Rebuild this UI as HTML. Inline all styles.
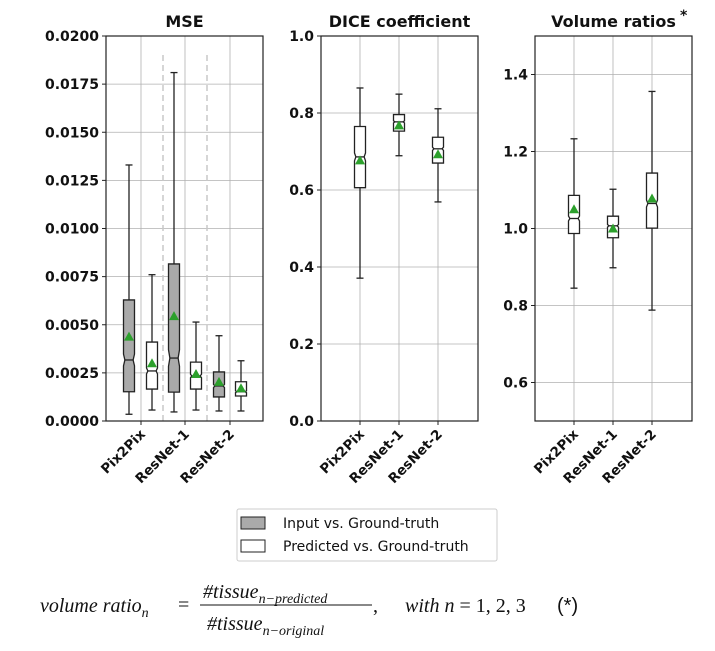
<!DOCTYPE html>
<html><head><meta charset="utf-8"><style>
body{margin:0;background:#fff;width:715px;height:651px;overflow:hidden}
svg{display:block;font-family:"DejaVu Sans","Liberation Sans",sans-serif}
</style></head><body>
<svg id="s" width="715" height="651">
<g id="g"></g>
<g>
<rect x="237" y="509" width="260" height="52" fill="#fff" stroke="#ccc" rx="2"/>
<rect x="241" y="517" width="24" height="12" fill="#aaa" stroke="#222"/>
<text x="283" y="528" font-size="14" fill="#111">Input vs. Ground-truth</text>
<rect x="241" y="540" width="24" height="12" fill="#fff" stroke="#222"/>
<text x="283" y="551" font-size="14" fill="#111">Predicted vs. Ground-truth</text>
</g>
<g font-family="'Liberation Serif',serif" font-style="italic" font-size="20" fill="#111">
<text x="40" y="612">volume ratio<tspan font-size="14" dy="5">n</tspan></text>
<text x="178" y="611" font-style="normal">=</text>
<text x="203" y="598">#tissue<tspan font-size="14" dy="5">n−predicted</tspan></text>
<line x1="200" y1="605" x2="372" y2="605" stroke="#111" stroke-width="1"/>
<text x="207" y="630">#tissue<tspan font-size="14" dy="5">n−original</tspan></text>
<text x="373" y="612" font-style="normal">,</text>
<text x="405" y="612">with n <tspan font-style="normal">= 1, 2, 3</tspan></text>
<text x="557" y="612" font-style="normal" font-family="'Liberation Sans',sans-serif">(*)</text>
</g>
</svg>
<script>
const categories = ["Pix2Pix","ResNet-1","ResNet-2"];
// [low, q1, median, q3, high, mean]
const mseInput = [[0.00035,0.00152,0.00317,0.00629,0.0133,0.00438],[0.00047,0.0015,0.00327,0.00816,0.0181,0.00545],[0.00052,0.00125,0.00182,0.00255,0.00443,0.00203]];
const msePred  = [[0.00057,0.00166,0.0026,0.0041,0.0076,0.0030],[0.00057,0.00166,0.00234,0.00306,0.00514,0.00244],[0.00052,0.0013,0.00152,0.00204,0.00313,0.0017]];
const dicePred = [[0.371,0.606,0.686,0.765,0.865,0.677],[0.689,0.753,0.777,0.796,0.849,0.768],[0.569,0.670,0.707,0.737,0.811,0.693]];
const volPred  = [[0.845,0.987,1.026,1.086,1.233,1.050],[0.898,0.976,1.007,1.032,1.102,1.0],[0.788,1.001,1.065,1.144,1.356,1.078]];
const mseTicks = ["0.0000","0.0025","0.0050","0.0075","0.0100","0.0125","0.0150","0.0175","0.0200"];
const diceTicks = ["0.0","0.2","0.4","0.6","0.8","1.0"];
const volTicks = ["0.6","0.8","1.0","1.2","1.4"];

const NS="http://www.w3.org/2000/svg", G=document.getElementById('g');
function el(t,a,p){const e=document.createElementNS(NS,t);for(const k in a)e.setAttribute(k,a[k]);(p||G).appendChild(e);return e;}

function panel(name,L,R,T,B,ymin,ymax,ticks,title,catX,series,dashX){
  const g=el('g',{});
  
  
  const y=v=>B-(v-ymin)/(ymax-ymin)*(B-T);
  ticks.forEach(t=>{const v=parseFloat(t),yy=y(v);
    const gl=el('line',{x1:L,x2:R,y1:yy,y2:yy,stroke:'#b0b0b0','stroke-width':0.8},g);
    
    
    el('line',{x1:L-4,x2:L,y1:yy,y2:yy,stroke:'#222'},g);
    const tx=el('text',{x:L-7,y:yy+5,'text-anchor':'end','font-size':14,'font-weight':'bold',fill:'#111'},g);
    tx.textContent=t;
    
    
  });
  categories.forEach((c,i)=>{const x=catX[i];
    const vl=el('line',{x1:x,x2:x,y1:T,y2:B,stroke:'#b0b0b0','stroke-width':0.8},g);
    
    
    el('line',{x1:x,x2:x,y1:B,y2:B+4,stroke:'#222'},g);
    const tx=el('text',{transform:`translate(${x+5},${B+14}) rotate(-45)`,'text-anchor':'end','font-size':13.5,'font-weight':'bold',fill:'#111'},g);
    tx.textContent=c;
    
    
  });
  (dashX||[]).forEach(x=>{const d=el('line',{x1:x,x2:x,y1:55,y2:B,stroke:'#c8c8c8','stroke-width':1.5,'stroke-dasharray':'6,4'},g);
    
    });
  series.forEach(s=>{s.data.forEach((d,i)=>{
    const cx=s.xs[i],w=5.5,[lo,q1,md,q3,hi,mn]=d;
    const bg=el('g',{},g);
    
    
    const st={stroke:'#222','stroke-width':1.3,fill:'none'};
    el('line',Object.assign({x1:cx,x2:cx,y1:y(hi),y2:y(q3)},st),bg);
    el('line',Object.assign({x1:cx,x2:cx,y1:y(q1),y2:y(lo)},st),bg);
    el('line',Object.assign({x1:cx-3.5,x2:cx+3.5,y1:y(hi),y2:y(hi)},st),bg);
    el('line',Object.assign({x1:cx-3.5,x2:cx+3.5,y1:y(lo),y2:y(lo)},st),bg);
    const nh=1.57*(q3-q1)/Math.sqrt(600);
    const nu=Math.min(md+nh,q3),nl=Math.max(md-nh,q1);
    const inset=w*0.75;
    const pts=[[cx-w,y(q1)],[cx+w,y(q1)],[cx+w,y(nl)],[cx+inset,y(md)],[cx+w,y(nu)],[cx+w,y(q3)],[cx-w,y(q3)],[cx-w,y(nu)],[cx-inset,y(md)],[cx-w,y(nl)]];
    el('polygon',{points:pts.map(p=>p.join(',')).join(' '),fill:s.fill,stroke:'#222','stroke-width':1.3},bg);
    el('line',{x1:cx-inset,x2:cx+inset,y1:y(md),y2:y(md),stroke:'#222','stroke-width':1.3},bg);
    const my=y(mn);
    el('polygon',{points:`${cx},${my-5} ${cx-5},${my+4} ${cx+5},${my+4}`,fill:'#2ca02c'},bg);
  });});
  const fr=el('rect',{x:L,y:T,width:R-L,height:B-T,fill:'none',stroke:'#222','stroke-width':1.2},g);
  
  
  const tt=el('text',{x:(L+R)/2,y:T-9,'text-anchor':'middle','font-size':16,'font-weight':'bold',fill:'#111'},g);
  tt.textContent=title;
  
  
  return tt;
}
panel('mse',106,263,36,421,0,0.02,mseTicks,'MSE',[141,185,230],
  [{key:'input',data:mseInput,fill:'#aaa',xs:[129,174,219]},{key:'predicted',data:msePred,fill:'#fff',xs:[152,196,241]}],[163,207]);
panel('dice',321,478,36,421,0,1,diceTicks,'DICE coefficient',[360,399,438],
  [{key:'predicted',data:dicePred,fill:'#fff',xs:[360,399,438]}]);
panel('volume',535,692,36,421,0.5,1.5,volTicks,'Volume ratios',[574,613,652],
  [{key:'predicted',data:volPred,fill:'#fff',xs:[574,613,652]}]);
const star=el('text',{x:680,y:20,'font-size':14,'font-weight':'bold',fill:'#111'});
star.textContent='*';


</script>
</body></html>
